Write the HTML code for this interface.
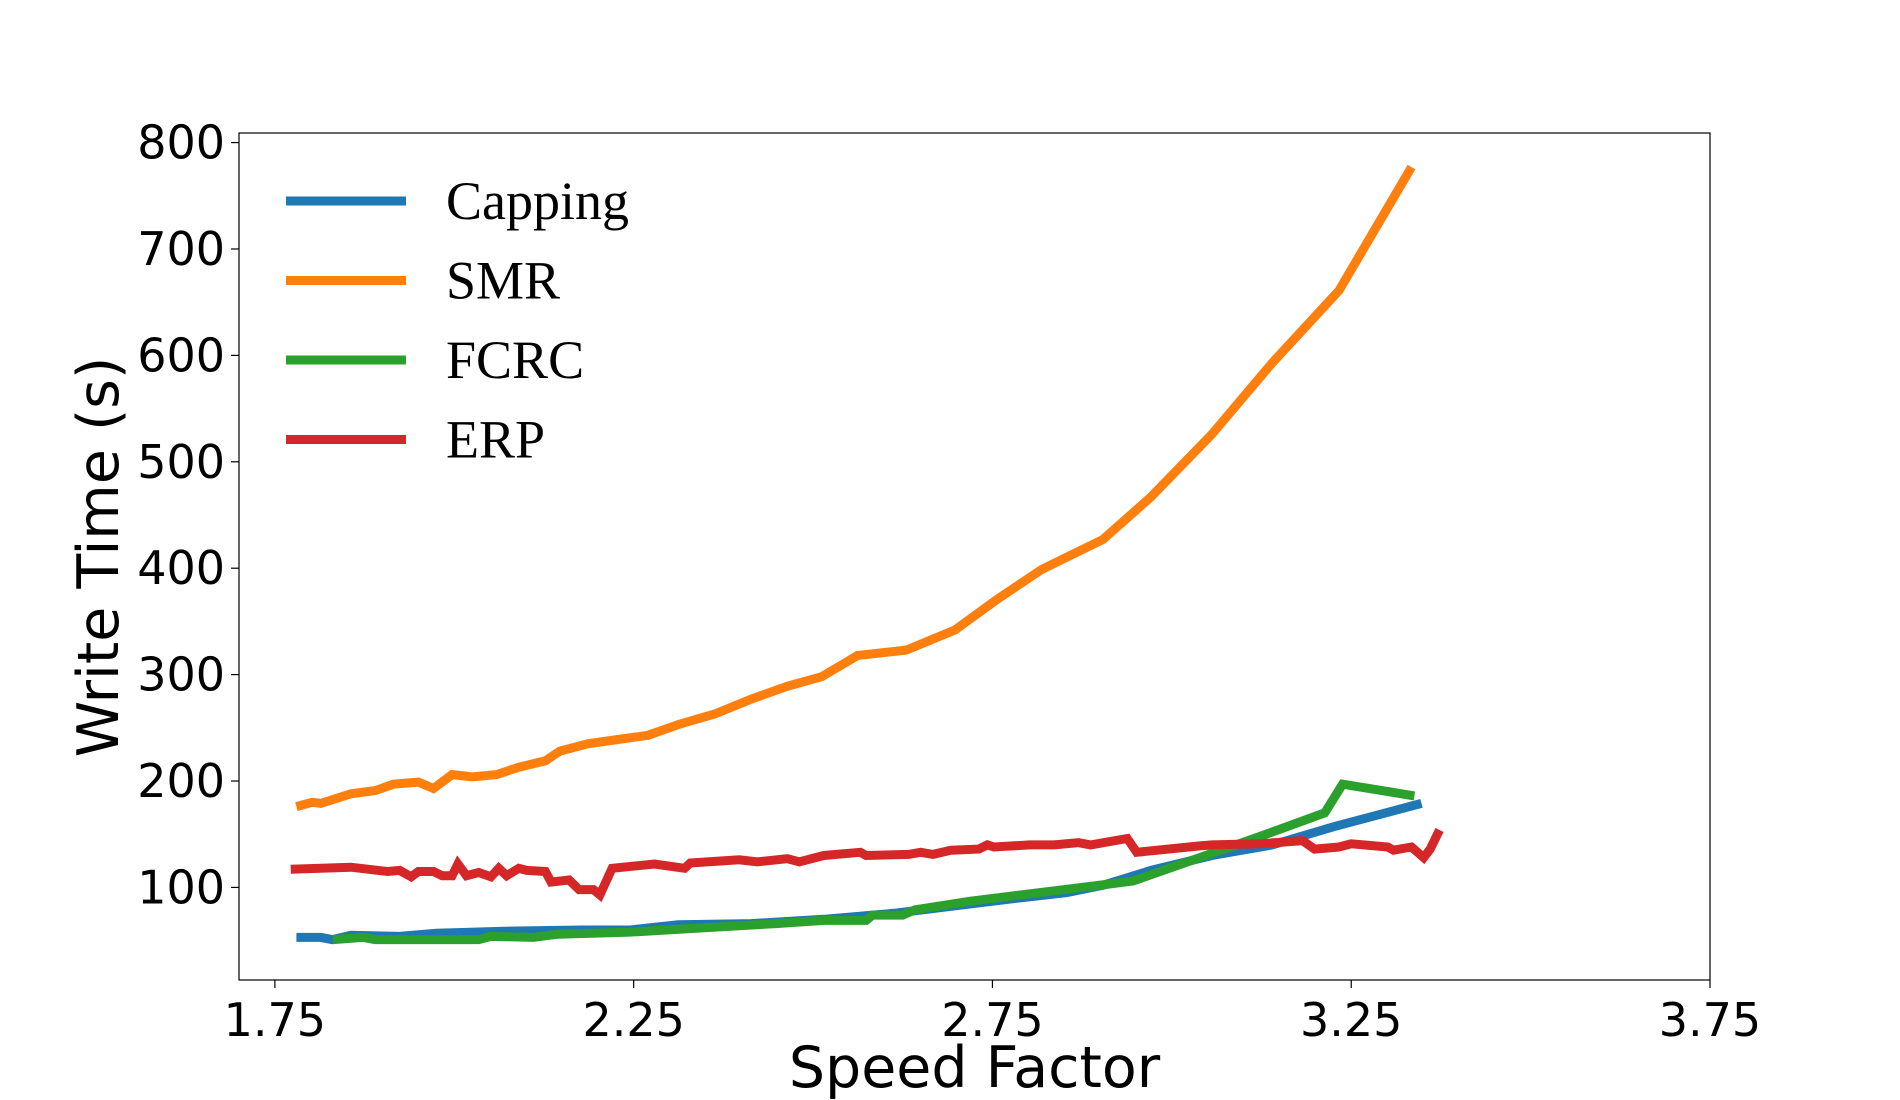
<!DOCTYPE html>
<html><head><meta charset="utf-8"><style>
html,body{margin:0;padding:0;background:#fff;}
svg{display:block;}
text{font-family:"DejaVu Sans","Liberation Sans",sans-serif;fill:#000;}
</style></head><body>
<svg id="chart" width="1900" height="1100" viewBox="0 0 1900 1100" xmlns="http://www.w3.org/2000/svg"></svg>
<script>
const xTicks=[1.75,2.25,2.75,3.25,3.75];
const xTickLabels=["1.75","2.25","2.75","3.25","3.75"];
const yTicks=[100,200,300,400,500,600,700,800];
const yTickLabels=["100","200","300","400","500","600","700","800"];
const seriesNames=["Capping","SMR","FCRC","ERP"];
const seriesColors=["#1f77b4","#ff7f0e","#2ca02c","#d62728"];
const cappingX=[1.78,1.814,1.83,1.856,1.924,1.975,2.076,2.177,2.245,2.312,2.414,2.515,2.617,2.701,2.785,2.853,2.904,2.971,3.056,3.14,3.225,3.348];
const cappingY=[53,53,51,55,54,57,59,60,60,65,66,70,76,83,90,95,102,116,130,140,157,179];
const smrX=[1.78,1.802,1.814,1.856,1.89,1.915,1.95,1.971,1.997,2.025,2.059,2.09,2.127,2.147,2.186,2.228,2.27,2.312,2.363,2.414,2.464,2.512,2.562,2.63,2.698,2.757,2.819,2.904,2.971,3.056,3.14,3.233,3.334];
const smrY=[176,180,179,188,191,197,199,193,206,204,206,213,219,228,235,239,243,253,263,277,289,298,318,323,342,371,399,427,467,526,593,661,777];
const fcrcX=[1.831,1.873,1.89,1.958,2.034,2.051,2.11,2.144,2.245,2.346,2.448,2.515,2.574,2.583,2.625,2.642,2.718,2.802,2.887,2.946,3.022,3.123,3.213,3.238,3.338];
const fcrcY=[51,53,51,51,51,54,53,56,58,62,66,69,69,74,74,79,87,94,101,106,124,148,170,197,186];
const erpX=[1.772,1.856,1.907,1.924,1.94,1.95,1.971,1.983,1.997,2.005,2.017,2.034,2.051,2.062,2.073,2.09,2.101,2.127,2.135,2.16,2.174,2.194,2.203,2.22,2.279,2.321,2.329,2.397,2.422,2.464,2.481,2.515,2.566,2.574,2.633,2.65,2.667,2.692,2.731,2.743,2.752,2.802,2.836,2.87,2.887,2.938,2.951,3.039,3.056,3.123,3.182,3.199,3.233,3.25,3.301,3.309,3.334,3.351,3.36,3.373];
const erpY=[117,119,115,116,110,115,115,111,111,122,111,114,110,118,111,118,116,115,105,107,98,98,93,118,122,118,123,126,124,127,124,130,133,130,131,133,131,135,136,140,138,140,140,142,140,146,133,139,140,141,144,136,138,141,138,135,138,128,136,154];

const L=239,R=1710,T=133,B=980,xmin=1.7,xmax=3.75,ymin=13,ymax=809;
const sx=v=>L+(v-xmin)/(xmax-xmin)*(R-L);
const sy=v=>B-(v-ymin)/(ymax-ymin)*(B-T);
const svg=document.getElementById('chart');
const NS='http://www.w3.org/2000/svg';
function mk(tag,attrs,parent){const e=document.createElementNS(NS,tag);for(const k in attrs)e.setAttribute(k,attrs[k]);(parent||svg).appendChild(e);return e;}

const series=[[cappingX,cappingY],[smrX,smrY],[fcrcX,fcrcY],[erpX,erpY]];
const plot=mk('g',{});


series.forEach((s,i)=>{
  const d=s[0].map((x,j)=>(j?'L':'M')+sx(x).toFixed(1)+','+sy(s[1][j]).toFixed(1)).join(' ');
  const p=mk('path',{d:d,fill:'none',stroke:seriesColors[i],'stroke-width':9,'stroke-linejoin':'miter'},plot);
  
  
});

const frame=mk('rect',{x:L,y:T,width:R-L,height:B-T,fill:'none',stroke:'#000','stroke-width':1.2});



xTicks.forEach((v,i)=>{
  const x=sx(v);
  const tk=mk('line',{x1:x,x2:x,y1:B,y2:B+8,stroke:'#000','stroke-width':1.2});
  
  
  const t=mk('text',{x:x,y:B+56,'text-anchor':'middle','font-size':46});
  t.textContent=xTickLabels[i];
  
  
});
yTicks.forEach((v,i)=>{
  const y=sy(v);
  const tk=mk('line',{x1:L-8,x2:L,y1:y,y2:y,stroke:'#000','stroke-width':1.2});
  
  
  const t=mk('text',{x:L-14,y:y+16,'text-anchor':'end','font-size':46});
  t.textContent=yTickLabels[i];
  
  
});
const xt=mk('text',{x:(L+R)/2,y:1087,'text-anchor':'middle','font-size':57});
xt.textContent='Speed Factor';


const yt=mk('text',{x:0,y:0,'text-anchor':'middle','font-size':57,transform:'translate(118,557) rotate(-90)'});
yt.textContent='Write Time (s)';



const lg=mk('g',{});


seriesNames.forEach((n,i)=>{
  const y=201+i*79.5;
  const ln=mk('line',{x1:286,x2:406,y1:y,y2:y,stroke:seriesColors[i],'stroke-width':9},lg);
  
  
  const t=mk('text',{x:446,y:y+18,'font-size':54,style:'font-family:"Liberation Serif",serif'},lg);
  t.textContent=n;
  
  
});
</script>
</body></html>
